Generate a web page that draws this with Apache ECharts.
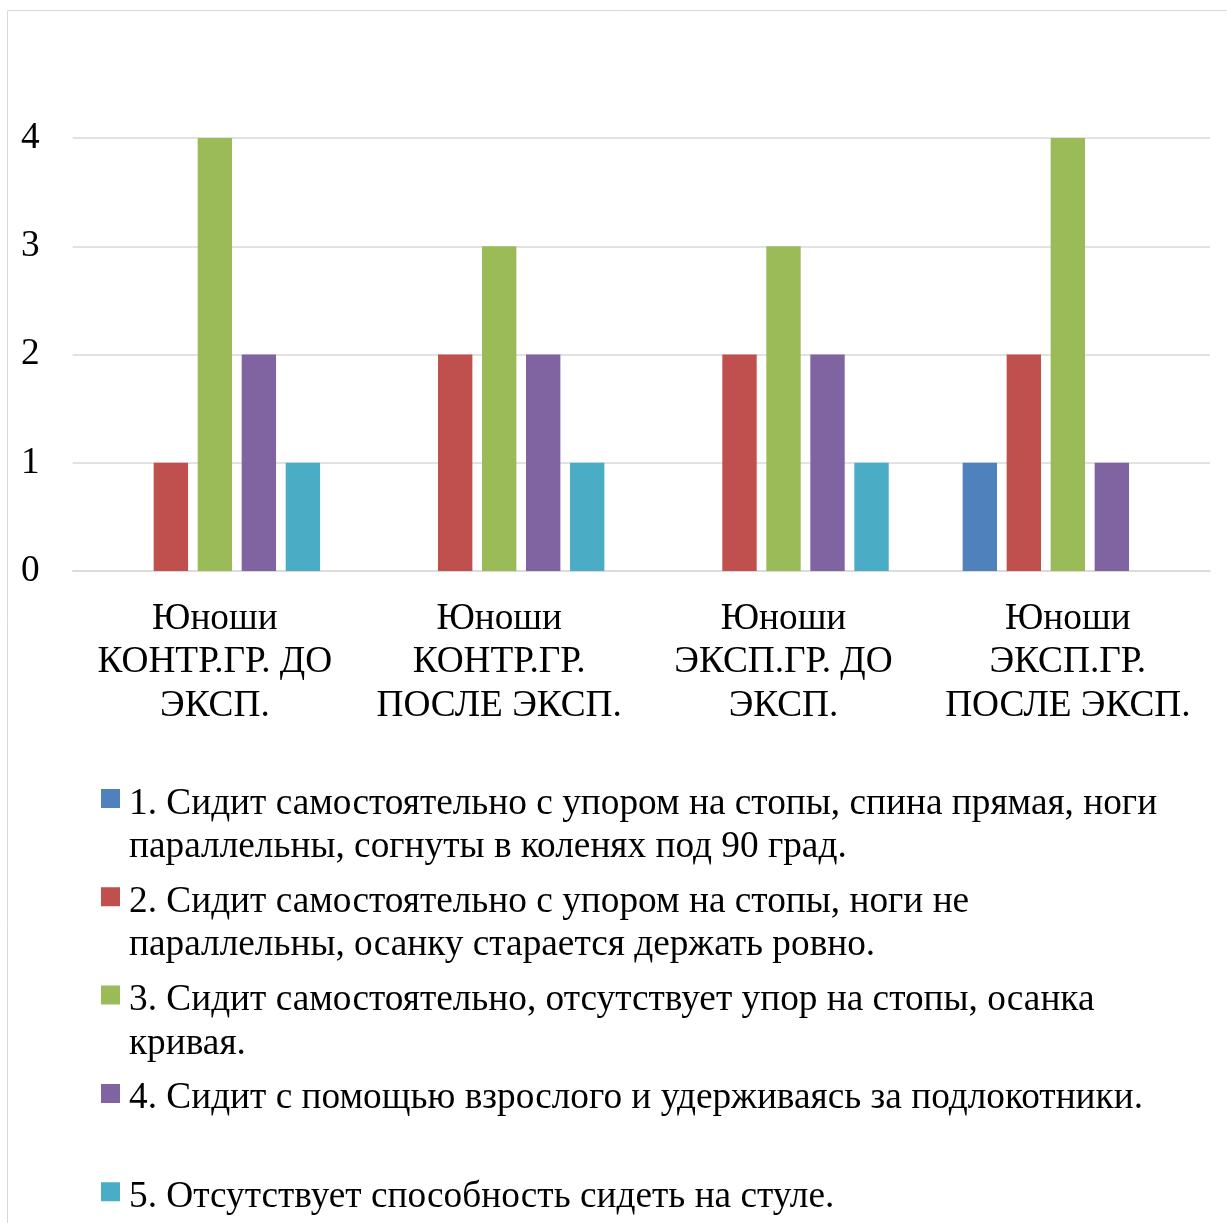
<!DOCTYPE html>
<html>
<head>
<meta charset="utf-8">
<script src="https://cdn.jsdelivr.net/npm/echarts@6/dist/echarts.min.js"></script>
<style>
html,body{margin:0;padding:0;background:#fff;}
#chart{width:1227px;height:1223px;}
</style>
</head>
<body>
<div id="chart"></div>
<script>
var categories = [
  'Юноши\nКОНТР.ГР. ДО\nЭКСП.',
  'Юноши\nКОНТР.ГР.\nПОСЛЕ ЭКСП.',
  'Юноши\nЭКСП.ГР. ДО\nЭКСП.',
  'Юноши\nЭКСП.ГР.\nПОСЛЕ ЭКСП.'
];
var seriesNames = [
  '1. Сидит самостоятельно с упором на стопы, спина прямая, ноги\nпараллельны, согнуты в коленях под 90 град.',
  '2. Сидит самостоятельно с упором на стопы, ноги не\nпараллельны, осанку старается держать ровно.',
  '3. Сидит самостоятельно, отсутствует упор на стопы, осанка\nкривая.',
  '4. Сидит с помощью взрослого и удерживаясь за подлокотники.',
  '5. Отсутствует способность сидеть на стуле.'
];
var s1 = [0, 0, 0, 1];
var s2 = [1, 2, 2, 2];
var s3 = [4, 3, 3, 4];
var s4 = [2, 2, 2, 1];
var s5 = [1, 1, 1, 0];
var seriesValues = [s1, s2, s3, s4, s5];
var colors = ['#4F81BD', '#C0504D', '#9BBB59', '#8064A2', '#4BACC6'];

var FONT = 'Liberation Serif';
var FS = 37.3;
var chart = echarts.init(document.getElementById('chart'), null, {renderer: 'canvas'});

var series = seriesNames.map(function (n, i) {
  return {
    name: n,
    type: 'bar',
    data: seriesValues[i],
    barGap: '28%',
    barCategoryGap: '26%',
    itemStyle: {color: colors[i]},
    emphasis: {disabled: true}
  };
});

chart.setOption({
  animation: false,
  color: colors,
  textStyle: {fontFamily: FONT},
  graphic: [{
    type: 'rect',
    shape: {x: 7.5, y: 10.5, width: 1400, height: 1400},
    style: {fill: 'none', stroke: '#d9d9d9', lineWidth: 1},
    silent: true,
    z: -1
  }],
  grid: {left: 72.7, right: 17, top: 138, bottom: 652},
  xAxis: {
    type: 'category',
    data: categories,
    axisLine: {show: true, lineStyle: {color: '#d9d9d9', width: 1.5}},
    axisTick: {show: false},
    axisLabel: {
      interval: 0,
      margin: 26,
      color: '#000',
      fontFamily: FONT,
      fontSize: FS,
      lineHeight: 43.5
    }
  },
  yAxis: {
    type: 'value',
    min: 0,
    max: 4,
    interval: 1,
    axisLine: {show: false},
    axisTick: {show: false},
    splitLine: {lineStyle: {color: '#d9d9d9', width: 1.5}},
    axisLabel: {
      margin: 33,
      color: '#000',
      fontFamily: FONT,
      fontSize: FS,
      padding: [5, 0, 0, 0]
    }
  },
  legend: {
    orient: 'vertical',
    left: 101,
    top: 782,
    height: 600,
    padding: 0,
    itemGap: 11.3,
    itemWidth: 23,
    itemHeight: 87,
    icon: 'path://M0,7H19V26H0Z M0,0L0,0 M23,87L23,87',
    selectedMode: false,
    formatter: function (name) {
      return name.indexOf('\n') < 0 ? name + '\n ' : name;
    },
    textStyle: {
      color: '#000',
      fontFamily: FONT,
      fontSize: FS,
      lineHeight: 43.5
    }
  },
  series: series
});
</script>
</body>
</html>
